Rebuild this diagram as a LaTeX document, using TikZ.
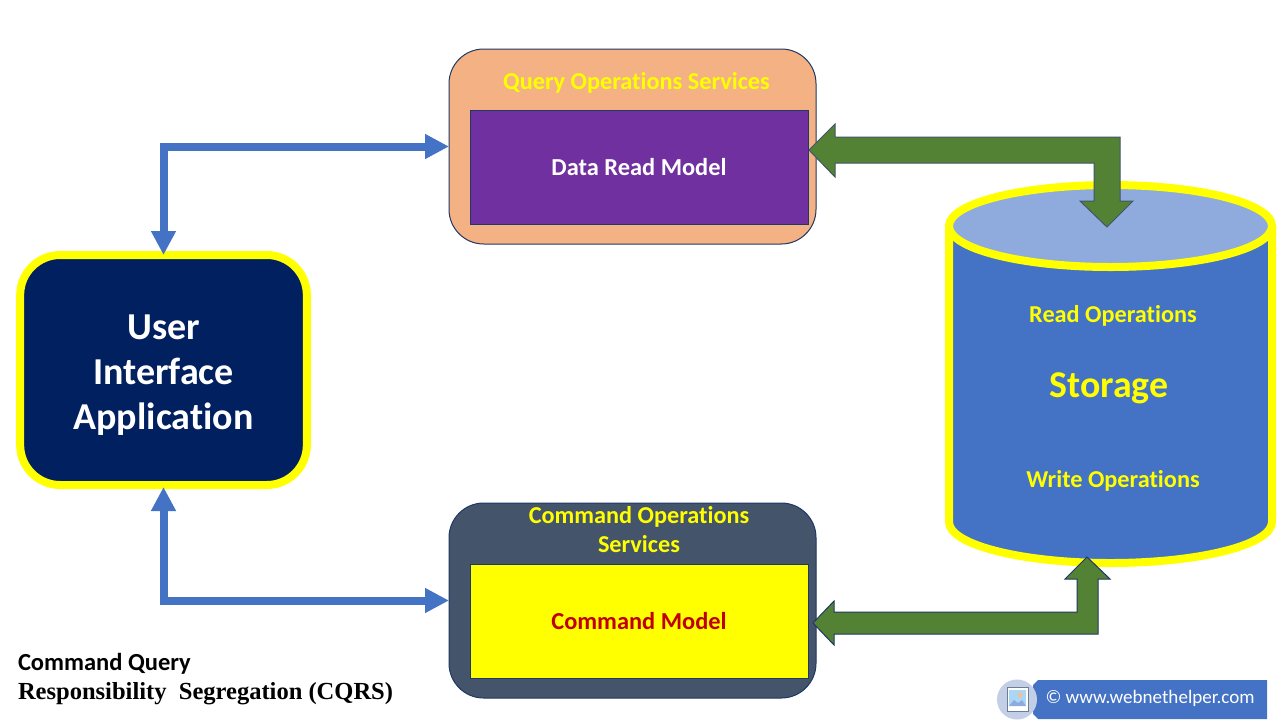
\documentclass[tikz,border=0pt]{standalone}
\usepackage{fontspec}
\setmainfont{Carlito}[Ligatures=CommonOff]
\newfontfamily\serifbold{Liberation Serif}[BoldFont={Liberation Serif Bold}]
\usetikzlibrary{arrows.meta,calc}
\definecolor{navy}{HTML}{002060}
\definecolor{yel}{HTML}{FFFF00}
\definecolor{peach}{HTML}{F4B183}
\definecolor{purp}{HTML}{7030A0}
\definecolor{slate}{HTML}{44546A}
\definecolor{blu}{HTML}{4472C4}
\definecolor{grn}{HTML}{548235}
\definecolor{ltblue}{HTML}{8FAADC}
\definecolor{edge}{HTML}{1F3864}
\definecolor{iconbg}{HTML}{C3CEE7}
\definecolor{cmdred}{HTML}{C00000}
\definecolor{iconedge}{HTML}{6E7D91}
\definecolor{iconsky}{HTML}{AAD7F5}
\definecolor{iconsun}{HTML}{F5BE96}
\definecolor{iconhill}{HTML}{8FAADC}
\tikzset{
  x=0.75pt,y=-0.75pt,
  every node/.style={inner sep=0pt,outer sep=0pt},
  service/.style={draw=edge,line width=0.75pt,rounded corners=26pt,minimum width=275.25pt,minimum height=146.25pt},
  model/.style={draw=edge,line width=0.75pt,minimum width=253.5pt,minimum height=85.5pt,font=\fontsize{18.3}{22}\selectfont\bfseries},
  uibox/.style={draw=yel,fill=navy,line width=6pt,rounded corners=30pt,minimum width=215pt,minimum height=172.5pt},
  uitext/.style={text=white,align=center,font=\fontsize{28.5}{34}\selectfont\bfseries},
  label/.style={text=yel,font=\fontsize{18.2}{21.75}\selectfont\bfseries,align=center},
  bluelink/.style={draw=blu,line width=6pt,{Triangle[length=18pt,width=17.6pt]}-{Triangle[length=18pt,width=17.6pt]}},
  greenlink/.style={draw=edge,fill=grn,line width=0.75pt,line join=miter},
  storageedge/.style={draw=yel,line width=6pt},
}
\begin{document}
\begin{tikzpicture}
\useasboundingbox (0,0) rectangle (1287,722);
\fill[white] (0,0) rectangle (1287,722);

% Storage cylinder
\path[fill=blu] (949,226) -- (949,522) arc[x radius=161.5,y radius=41,start angle=180,end angle=0] -- (1272,226) -- cycle;
\draw[storageedge] (949,226) -- (949,522) arc[x radius=161.5,y radius=41,start angle=180,end angle=0] -- (1272,226);
\draw[storageedge,fill=ltblue] (1110.5,226) ellipse[x radius=161.5,y radius=41];
\node[label] (readops) at (1113,316) {Read Operations};
\node[label,font=\fontsize{28.4}{34}\selectfont\bfseries] (storage) at (1109,388) {Storage};
\node[label] (writeops) at (1113,481) {Write Operations};

% Services
\node[service,fill=peach] (query) at (632.5,146.5) {};
\node[label] (querytitle) at (636.5,83) {Query Operations Services};
\node[model,fill=purp,text=white] (readmodel) at (639,167) {Data Read Model};

\node[service,fill=slate] (command) at (632.5,600.5) {};
\node[label] (commandtitle) at (639,530) {Command Operations\\Services};
\node[model,fill=yel,text=cmdred] (commandmodel) at (639,621.5) {Command Model};

% User interface
\node[uibox] (ui) at (163.5,370) {};
\node[uitext] (uilabel) at (163.5,375) {User\\Interface\\Application};

% Blue connectors
\coordinate (uibottom) at (163.5,487);
\draw[bluelink] (ui.north) |- (query.west);
\draw[bluelink] (uibottom) |- (command.west);

% Green connectors
\coordinate (readtip) at (809,150);
\coordinate (storetop) at (1107,227);
\draw[greenlink,draw=slate] (readtip) -- (835,124) -- (835,137) -- (1120,137) -- (1120,201) -- (1133,201) -- (storetop) -- (1080,201) -- (1094,201) -- (1094,163) -- (835,163) -- (835,177) -- cycle;
\coordinate (cmdtip) at (813,623);
\coordinate (storebottom) at (1087,557);
\draw[greenlink] (cmdtip) -- (834,601) -- (834,612) -- (1077,612) -- (1077,579) -- (1065,579) -- (storebottom) -- (1110,579) -- (1098,579) -- (1098,634) -- (834,634) -- (834,645) -- cycle;

% Caption
\node[anchor=base west,font=\fontsize{18.4}{20}\selectfont\bfseries] (cap1) at (18,670) {Command Query};
\node[anchor=base west,font=\fontsize{18.4}{20}\selectfont\serifbold\bfseries] (cap2) at (18,699) {Responsibility\ \ Segregation (CQRS)};

% Web badge
\fill[blu] (1038,680) -- (1267,680) -- (1267,719) -- (1038,719) -- (1033,714) -- (1033,685) -- cycle;
\fill[iconbg] (1017,699.5) circle[radius=20];
\node[anchor=west,text=white,font=\fontsize{14.3}{17}\selectfont] (web) at (1045.5,698) {© www.webnethelper.com};
\draw[fill=white,draw=iconedge,line width=0.75pt] (1007,687) rectangle (1028,711);
\fill[iconsky] (1009,690) rectangle (1026,706);
\fill[iconsun] (1020,695) circle[radius=2.5];
\fill[iconhill] (1009,706) -- (1014,700) -- (1018,703) -- (1022,700) -- (1026,706) -- cycle;
\end{tikzpicture}
\end{document}
